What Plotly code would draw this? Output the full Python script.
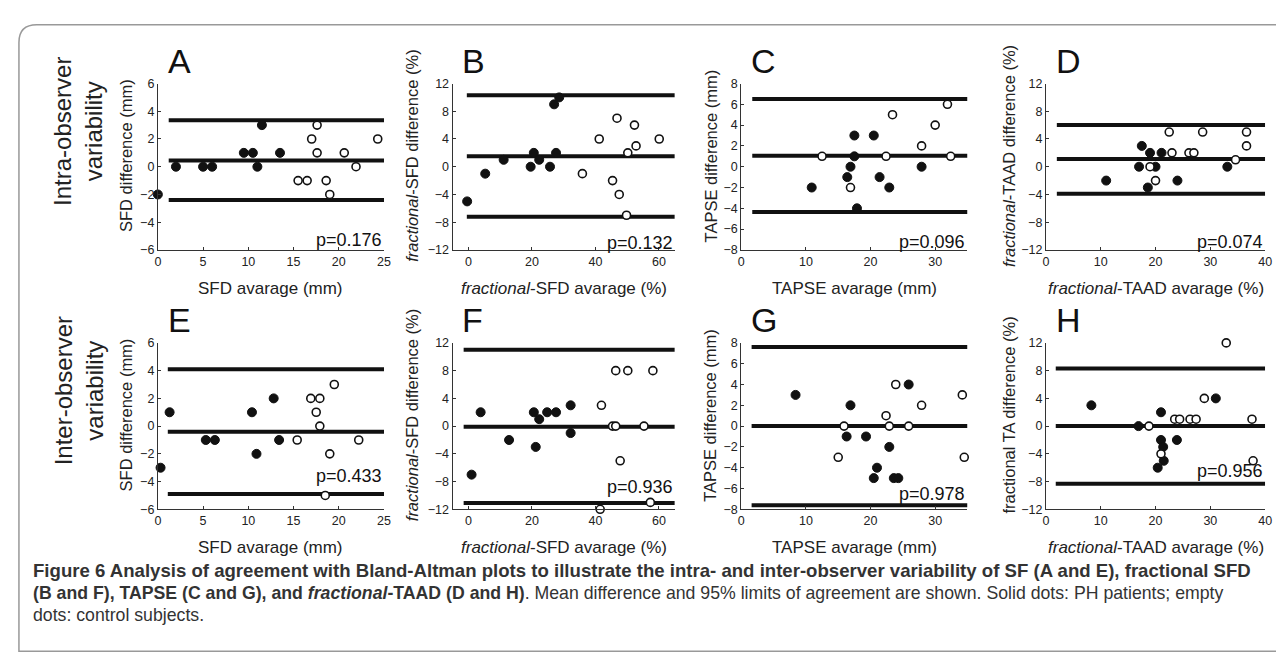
import plotly.graph_objects as go

W, H = 1284, 662

# ---- data (PH patients = filled, controls = open) ----
# A: intra-observer SFD
a_ph_x = [0.0, 2.0, 5.0, 6.0, 9.5, 10.5, 11.0, 11.5, 13.5]
a_ph_y = [-2, 0, 0, 0, 1, 1, 0, 3, 1]
a_ctrl_x = [15.5, 16.5, 17.0, 17.6, 17.6, 18.6, 19.0, 20.6, 21.9, 24.3]
a_ctrl_y = [-1, -1, 2, 3, 1, -1, -2, 1, 0, 2]
a_limits = [3.35, 0.45, -2.4]

# B: intra-observer fractional SFD
b_ph_x = [-0.4, 5.3, 11.1, 19.6, 20.6, 22.3, 25.7, 27.0, 27.6, 28.6]
b_ph_y = [-5, -1, 1, 0, 2, 1, 0, 9, 2, 10]
b_ctrl_x = [35.9, 41.2, 45.4, 46.8, 47.5, 49.8, 50.2, 52.3, 52.8, 60.1]
b_ctrl_y = [-1, 4, -2, 7, -4, -7, 2, 6, 3, 4]
b_limits = [10.3, 1.5, -7.2]

# C: intra-observer TAPSE
c_ph_x = [10.9, 16.4, 16.9, 17.5, 17.5, 17.9, 20.5, 21.4, 22.9, 27.9]
c_ph_y = [-2, -1, 0, 3, 1, -4, 3, -1, -2, 0]
c_ctrl_x = [12.5, 16.9, 22.4, 23.4, 27.9, 30.0, 31.9, 32.4]
c_ctrl_y = [1, -2, 1, 5, 2, 4, 6, 1]
c_limits = [6.5, 1.05, -4.35]

# D: intra-observer fractional TAAD
d_ph_x = [11.0, 17.0, 17.5, 18.6, 19.0, 20.0, 21.1, 24.0, 33.1]
d_ph_y = [-2, 0, 3, -3, 2, 0, 2, -2, 0]
d_ctrl_x = [19.0, 20.0, 22.5, 23.0, 26.1, 27.0, 28.6, 34.6, 36.6, 36.6]
d_ctrl_y = [0, -2, 5, 2, 2, 2, 5, 1, 5, 3]
d_limits = [6.0, 1.1, -3.9]

# E: inter-observer SFD
e_ph_x = [0.3, 1.3, 5.3, 6.3, 10.4, 10.9, 12.8, 13.4]
e_ph_y = [-3, 1, -1, -1, 1, -2, 2, -1]
e_ctrl_x = [15.4, 16.9, 17.5, 17.9, 17.9, 18.5, 19.0, 19.5, 22.2]
e_ctrl_y = [-1, 2, 1, 2, 0, -5, -2, 3, -1]
e_limits = [4.1, -0.4, -4.9]

# F: inter-observer fractional SFD
f_ph_x = [1.0, 3.85, 12.8, 20.6, 21.2, 22.3, 24.8, 27.6, 32.2, 32.2]
f_ph_y = [-7, 2, -2, 2, -3, 1, 2, 2, 3, -1]
f_ctrl_x = [41.9, 41.5, 45.4, 46.4, 46.4, 47.8, 50.2, 55.3, 57.3, 58.1]
f_ctrl_y = [3, -12, 0, 0, 8, -5, 8, 0, -11, 8]
f_limits = [11.0, -0.1, -11.1]

# G: inter-observer TAPSE
g_ph_x = [8.4, 16.3, 16.9, 19.3, 21.0, 20.5, 22.9, 23.6, 24.3, 25.9]
g_ph_y = [3, -1, 2, -1, -4, -5, -2, -5, -5, 4]
g_ctrl_x = [15.0, 15.9, 22.4, 22.9, 23.9, 25.9, 27.9, 34.2, 34.5]
g_ctrl_y = [-3, 0, 1, 0, 4, 0, 2, 3, -3]
g_limits = [7.6, 0.0, -7.6]

# H: inter-observer fractional TA
h_ph_x = [8.3, 16.9, 20.4, 21.0, 21.0, 21.4, 21.5, 23.9, 31.0]
h_ph_y = [3, 0, -6, 2, -2, -3, -5, -2, 4]
h_ctrl_x = [18.8, 21.0, 23.5, 24.4, 26.3, 27.4, 28.9, 32.9, 37.6, 37.8]
h_ctrl_y = [0, -4, 1, 1, 1, 1, 4, 12, 1, -5]
h_limits = [8.3, 0.0, -8.3]

letters = ["A", "B", "C", "D", "E", "F", "G", "H"]
p_values = ["p=0.176", "p=0.132", "p=0.096", "p=0.074", "p=0.433", "p=0.936", "p=0.978", "p=0.956"]
p_heights = [-5.3, -11.0, -7.2, -10.9, -3.6, -8.8, -6.5, -6.5]
line_starts = [1.2, -0.5, 1.7, 2.0, 1.1, -1.5, 1.6, 1.8]

x_titles = ["SFD avarage (mm)", "<i>fractional</i>-SFD avarage (%)",
            "TAPSE avarage (mm)", "<i>fractional</i>-TAAD avarage (%)"]
y_titles = ["SFD difference (mm)", "<i>fractional</i>-SFD difference (%)",
            "TAPSE difference (mm)", "<i>fractional</i>-TAAD difference (%)",
            "SFD difference (mm)", "<i>fractional</i>-SFD difference (%)",
            "TAPSE difference (mm)", "fractional TA difference (%)"]
x_ranges = [[0, 25], [-5, 65], [0, 35], [0, 40]]
x_ticks = [[0, 5, 10, 15, 20, 25], [0, 20, 40, 60], [0, 10, 20, 30], [0, 10, 20, 30, 40]]
y_ranges = [[-6, 6], [-12, 12], [-8, 8], [-12, 12]]
y_ticks = [[-6, -4, -2, 0, 2, 4, 6], [-12, -8, -4, 0, 4, 8, 12],
           [-8, -6, -4, -2, 0, 2, 4, 6, 8], [-12, -8, -4, 0, 4, 8, 12]]
row_labels = ["Intra-observer<br>variability", "Inter-observer<br>variability"]

panels = [
    (a_ph_x, a_ph_y, a_ctrl_x, a_ctrl_y, a_limits),
    (b_ph_x, b_ph_y, b_ctrl_x, b_ctrl_y, b_limits),
    (c_ph_x, c_ph_y, c_ctrl_x, c_ctrl_y, c_limits),
    (d_ph_x, d_ph_y, d_ctrl_x, d_ctrl_y, d_limits),
    (e_ph_x, e_ph_y, e_ctrl_x, e_ctrl_y, e_limits),
    (f_ph_x, f_ph_y, f_ctrl_x, f_ctrl_y, f_limits),
    (g_ph_x, g_ph_y, g_ctrl_x, g_ctrl_y, g_limits),
    (h_ph_x, h_ph_y, h_ctrl_x, h_ctrl_y, h_limits),
]

# pixel layout of the axes boxes
col_px = [(148, 376), (445, 669), (736, 964), (1043, 1264)]
row_px = [(70, 240), (335, 505)]
ytitle_off = [32, 41, 31, 37]

FONT = "Liberation Sans, Arial, Helvetica, sans-serif"
fig = go.Figure()
layout = dict(
    width=W, height=H, margin=dict(l=0, r=0, t=0, b=0),
    paper_bgcolor="white", plot_bgcolor="white", showlegend=False,
    font=dict(family=FONT, color="#222"),
)
annotations = []

for i, (ph_x, ph_y, ct_x, ct_y, limits) in enumerate(panels):
    row, col = divmod(i, 4)
    n = i + 1
    xa = "x" if n == 1 else f"x{n}"
    ya = "y" if n == 1 else f"y{n}"
    x0, x1 = col_px[col]
    y0, y1 = row_px[row]
    layout[f"xaxis{'' if n == 1 else n}"] = dict(
        domain=[x0 / W, x1 / W], range=x_ranges[col], tickvals=x_ticks[col],
        anchor=ya, showline=True, linecolor="#333", linewidth=1,
        ticks="inside", ticklen=3, tickcolor="#333", showgrid=False, zeroline=False,
        tickfont=dict(size=12.5, family=FONT, color="#222"),
    )
    layout[f"yaxis{'' if n == 1 else n}"] = dict(
        domain=[1 - y1 / H, 1 - y0 / H], range=y_ranges[col], tickvals=y_ticks[col],
        anchor=xa, showline=True, linecolor="#333", linewidth=1,
        ticks="inside", ticklen=3, tickcolor="#333", showgrid=False, zeroline=False,
        tickfont=dict(size=12.5, family=FONT, color="#222"),
    )

    # mean difference and 95% limits of agreement
    for v in limits:
        fig.add_trace(go.Scatter(
            x=[line_starts[i], x_ranges[col][1]], y=[v, v], mode="lines",
            line=dict(color="#111", width=4), xaxis=xa, yaxis=ya,
            hoverinfo="skip", cliponaxis=False,
        ))
    fig.add_trace(go.Scatter(
        x=ph_x, y=ph_y, mode="markers", xaxis=xa, yaxis=ya, cliponaxis=False,
        marker=dict(size=9, color="#111", line=dict(color="#111", width=1)),
        name="PH patients",
    ))
    fig.add_trace(go.Scatter(
        x=ct_x, y=ct_y, mode="markers", xaxis=xa, yaxis=ya, cliponaxis=False,
        marker=dict(size=8, color="white", line=dict(color="#111", width=1.6)),
        name="Controls",
    ))

    # panel letter
    annotations.append(dict(
        text=letters[i], x=(x0 + 8) / W, y=1 - (y0 - 2) / H, xref="paper", yref="paper",
        xanchor="left", yanchor="bottom", showarrow=False,
        font=dict(size=34, family=FONT, color="#111"),
    ))
    # p value
    annotations.append(dict(
        text=p_values[i], x=x_ranges[col][1], y=p_heights[i], xref=xa, yref=ya,
        xanchor="right", yanchor="middle", showarrow=False,
        font=dict(size=18, family=FONT, color="#111"),
    ))
    # axis titles
    annotations.append(dict(
        text=x_titles[col], x=(x0 + x1) / 2 / W, y=1 - (y1 + 39) / H,
        xref="paper", yref="paper", xanchor="center", yanchor="middle",
        showarrow=False, font=dict(size=17, family=FONT, color="#222"),
    ))
    annotations.append(dict(
        text=y_titles[i], x=(x0 - ytitle_off[col]) / W, y=1 - ((y0 + y1) / 2 - 11) / H,
        xref="paper", yref="paper", xanchor="center", yanchor="middle",
        textangle=-90, showarrow=False, font=dict(size=16.5, family=FONT, color="#222"),
    ))

# row labels
for r, label in enumerate(row_labels):
    y0, y1 = row_px[r]
    annotations.append(dict(
        text=label, x=68 / W, y=1 - ((y0 + y1) / 2 - 36) / H, xref="paper", yref="paper",
        xanchor="center", yanchor="middle", textangle=-90, showarrow=False,
        font=dict(size=24, family=FONT, color="#222"),
    ))

# caption (one annotation per printed line)
caption_lines = [
    "<b>Figure 6 Analysis of agreement with Bland-Altman plots to illustrate the intra- and "
    "inter-observer variability of SF (A and E), fractional SFD</b>",
    "<b>(B and F), TAPSE (C and G), and <i>fractional</i>-TAAD (D and H)</b>. Mean difference "
    "and 95% limits of agreement are shown. Solid dots: PH patients; empty",
    "dots: control subjects.",
]
caption_sizes = [18.6, 17.7, 17.7]
for k, line in enumerate(caption_lines):
    annotations.append(dict(
        text=line, x=20 / W, y=1 - (567 + 23 * k) / H, xref="paper", yref="paper",
        xanchor="left", yanchor="middle", showarrow=False, align="left",
        font=dict(size=caption_sizes[k], family=FONT, color="#333"),
    ))

layout["annotations"] = annotations
layout["shapes"] = [dict(
    type="path", xref="paper", yref="paper", layer="below",
    path=f"M {1276 / W} {1 - 10 / H} L {26 / W} {1 - 10 / H} "
         f"Q {8 / W} {1 - 10 / H} {8 / W} {1 - 28 / H} L {8 / W} {1 - 650 / H} "
         f"L {1276 / W} {1 - 650 / H} Z",
    line=dict(color="#999", width=1.5),
)]
fig.update_layout(**layout)
fig.write_html("out.html")
